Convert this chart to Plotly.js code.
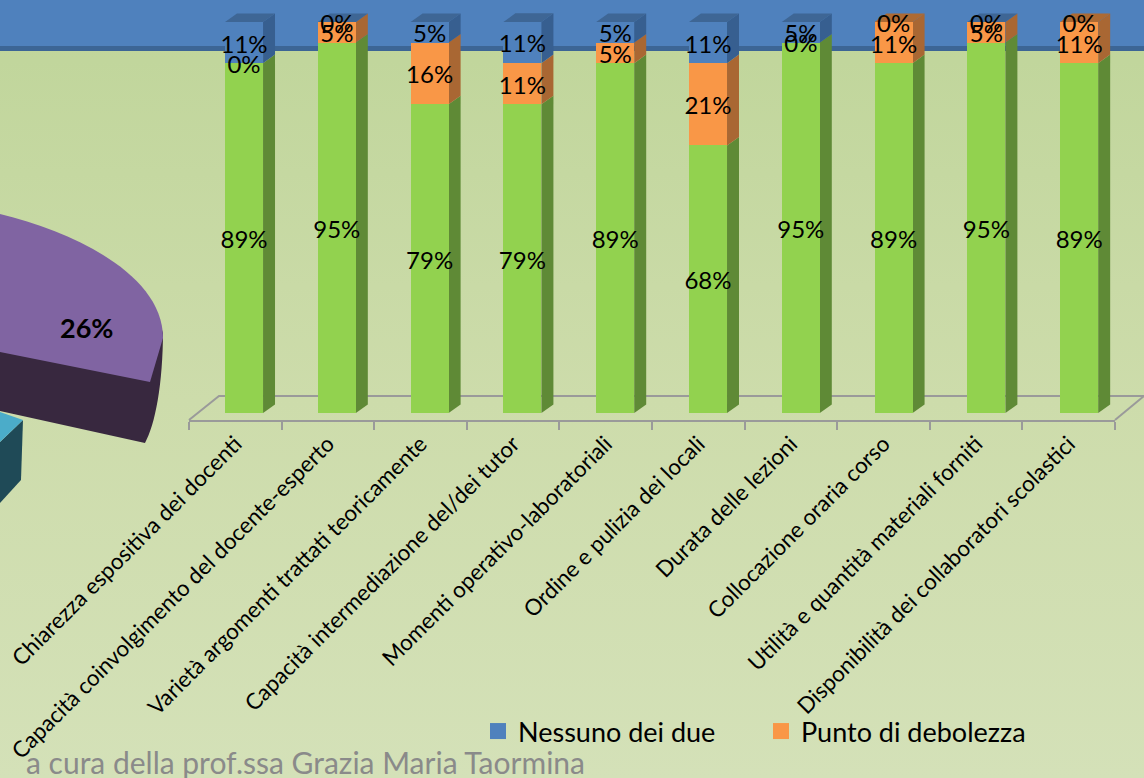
<!DOCTYPE html>
<html><head><meta charset="utf-8">
<script src="https://cdn.plot.ly/plotly-3.0.1.min.js"></script>
<style>html,body{margin:0;padding:0;width:1144px;height:778px;overflow:hidden;background:linear-gradient(180deg,#bfd599 0px,#c1d69c 60px,#cddcab 400px,#d4e1b8 778px);}#c{width:1144px;height:778px}</style>
</head><body><div id="c"></div>
<script>
const categories = ["Chiarezza espositiva dei docenti","Capacità coinvolgimento del docente-esperto","Varietà argomenti trattati teoricamente","Capacità intermediazione del/dei tutor","Momenti operativo-laboratoriali","Ordine e pulizia dei locali","Durata delle lezioni","Collocazione oraria corso","Utilità e quantità materiali forniti","Disponibilità dei collaboratori scolastici"];
const forza      = [89.47,94.74,78.95,78.95,89.47,68.42,94.74,89.47,94.74,89.47];
const debolezza  = [0,5.26,15.79,10.53,5.26,21.05,0,10.53,5.26,10.53];
const nessuno    = [10.53,0,5.26,10.53,5.26,10.53,5.26,0,0,0];
const topFace    = ["b","b","b","b","b","b","b","o","b","o"];
const pieLabel = "26%";
const footer = "a cura della prof.ssa Grazia Maria Taormina";

const W=1144,H=778,L=189,R=1115,T=12,B=420;
const idx = categories.map((_,i)=>i);
const pct = v=>Math.round(v)+"%";
const colors={g:"#92d24f",o:"#f99747",b:"#4f81bd"}, side={g:"#5f8a36",o:"#a96733",b:"#375f90"}, top_={o:"#ad6a33",b:"#3e6695"};
const font="Lato, Carlito, sans-serif";
const BW=0.41,DX=0.129,DY=2.2,TEXT_DROP=1;

function bar(y,c){return {type:"bar",x:idx,y:y,width:BW,marker:{color:c,line:{width:0}},showlegend:false,hoverinfo:"skip"};}
function labels(y,base){return {type:"scatter",mode:"text",x:idx,y:y.map((v,i)=>base[i]+v/2-TEXT_DROP),text:y.map(pct),textposition:"middle center",textfont:{family:font,size:24,color:"#000"},showlegend:false,hoverinfo:"skip"};}
function key(name,c){return {type:"scatter",mode:"markers",name:name,x:[null],y:[null],marker:{symbol:"square",size:16,color:c,line:{width:0}}};}
const base2=forza, base3=forza.map((v,i)=>v+debolezza[i]);
const zero=forza.map(()=>0);

const shapes=[];
function px(x){return (x-L)/(R-L);} function py(y){return (B-y)/(B-T);}
function paperPath(p,c,extra){shapes.push(Object.assign({type:"path",xref:"paper",yref:"paper",layer:"below",path:p,fillcolor:c,line:{width:0}},extra||{}));}
function P(x,y){return px(x).toFixed(5)+","+py(y).toFixed(5);}
// slide header band
paperPath(`M${P(0,0)}L${P(W,0)}L${P(W,46)}L${P(0,46)}Z`,"#4f81bd");
paperPath(`M${P(0,46)}L${P(W,46)}L${P(W,51)}L${P(0,51)}Z`,"#3c6595");
// fragment of the 3D pie at the left edge
paperPath(`M${P(0,442)}L${P(23,420)}L${P(21,480)}L${P(0,503)}Z`,"#1f4a57");
paperPath(`M${P(0,412)}L${P(23,420)}L${P(0,442)}Z`,"#4bacc9");
paperPath(`M${P(0,340)}L${P(150,370)}L${P(163,330)}C${P(163,385)} ${P(155,425)} ${P(145,443)}L${P(0,411)}Z`,"#38283f");
paperPath(`M${P(0,214)}C${P(75,232)} ${P(163,275)} ${P(163,338)}L${P(150,382)}L${P(0,352)}Z`,"#8064a2");
// floor of the 3D chart
const gl={color:"#9a9a9a",width:2};
shapes.push({type:"path",xref:"paper",yref:"paper",layer:"below",path:`M${P(189,420)}L${P(219,396)}L${P(1144,396)}`,line:gl});
shapes.push({type:"path",xref:"paper",yref:"paper",layer:"below",path:`M${P(1115,420)}L${P(1144,396)}`,line:gl});
// depth faces of the columns, from the stacked values
function face(i,y0,y1,c){const r=i+BW/2;
  shapes.push({type:"path",xref:"x",yref:"y",layer:"between",fillcolor:c,line:{width:0},path:`M${r},${y0}L${r+DX},${y0+DY}L${r+DX},${y1+DY}L${r},${y1}Z`});}
idx.forEach(i=>{
  const a=forza[i],b=a+debolezza[i],c=b+nessuno[i];
  face(i,0,a,side.g); if(debolezza[i]>0)face(i,a,b,side.o); if(nessuno[i]>0)face(i,b,c,side.b);
  const l=i-BW/2,r=i+BW/2;
  shapes.push({type:"path",xref:"x",yref:"y",layer:"between",fillcolor:top_[topFace[i]],line:{width:0},path:`M${l},${c}L${l+DX},${c+DY}L${r+DX},${c+DY}L${r},${c}Z`});
});

const data=[bar(forza,colors.g),bar(debolezza,colors.o),bar(nessuno,colors.b),
 labels(forza,zero),labels(debolezza,base2),labels(nessuno,base3),
 {type:"scatter",mode:"markers",x:categories,y:categories.map(()=>0),xaxis:"x2",yaxis:"y",marker:{opacity:0},showlegend:false,hoverinfo:"skip"},
 key("Punto di debolezza",colors.o),key("Nessuno dei due",colors.b)];

const layout={width:W,height:H,margin:{l:L,r:W-R,t:T,b:H-B,pad:0},paper_bgcolor:"rgba(0,0,0,0)",plot_bgcolor:"rgba(0,0,0,0)",
 barmode:"stack",font:{family:font,size:24,color:"#000"},shapes:shapes,
 xaxis:{type:"linear",range:[-0.593,9.386],visible:false,fixedrange:true},
 xaxis2:{type:"category",overlaying:"x",anchor:"y",side:"bottom",categoryorder:"array",categoryarray:categories,range:[-0.5,9.5],tickson:"boundaries",ticks:"outside",ticklen:8,tickwidth:2,tickcolor:"#9a9a9a",showline:true,linecolor:"#9a9a9a",linewidth:2,showgrid:false,zeroline:false,tickangle:-45,tickfont:{family:font,size:22.4,color:"#000"},automargin:false},
 yaxis:{range:[-1.79,102.56],visible:false,fixedrange:true,showgrid:false,zeroline:false},
 legend:{orientation:"h",traceorder:"reversed",x:(478-L)/(R-L),xanchor:"left",y:py(707),yanchor:"top",bgcolor:"rgba(0,0,0,0)",font:{family:font,size:27,color:"#000"},entrywidth:238,entrywidthmode:"pixels",itemclick:false,itemdoubleclick:false},
 annotations:[
  {xref:"paper",yref:"paper",x:px(86),y:py(327),text:"<b>"+pieLabel+"</b>",showarrow:false,xanchor:"center",yanchor:"middle",font:{family:font,size:27,color:"#000"}},
  {xref:"paper",yref:"paper",x:px(24),y:py(762),text:footer,showarrow:false,xanchor:"left",yanchor:"middle",font:{family:font,size:30,color:"#8a8a8a"}}
 ]};
Plotly.newPlot("c",data,layout,{displayModeBar:false,responsive:false});
</script></body></html>
